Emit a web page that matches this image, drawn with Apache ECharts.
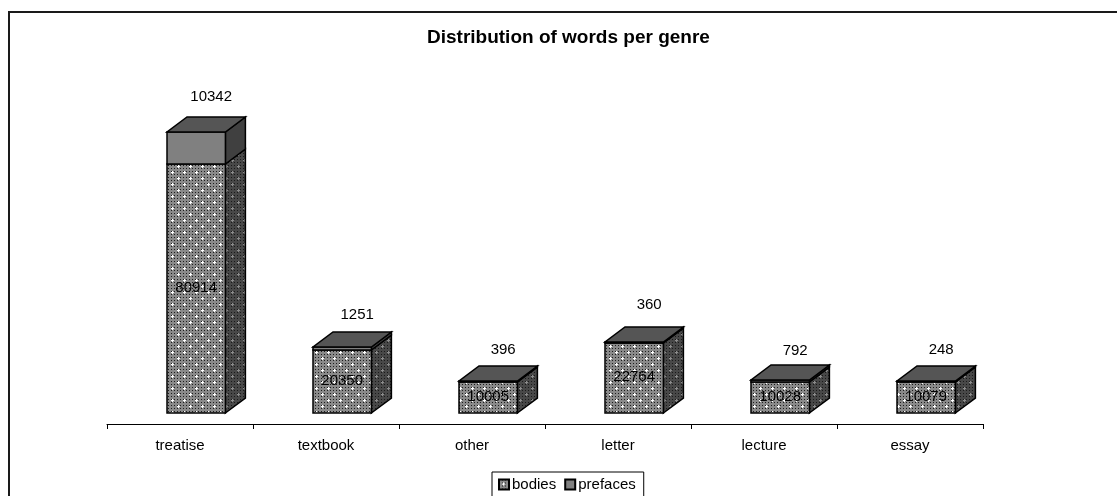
<!DOCTYPE html>
<html>
<head>
<meta charset="utf-8">
<title>Distribution of words per genre</title>
<style>
  html, body { margin: 0; padding: 0; background: #fff; }
  #chart { width: 1117px; height: 496px; }
</style>
<script src="https://cdn.jsdelivr.net/npm/echarts@6/dist/echarts.min.js"></script>
</head>
<body>
<div id="chart"></div>
<script>
const categories = ['treatise', 'textbook', 'other', 'letter', 'lecture', 'essay'];
const bodies = [80914, 20350, 10005, 22764, 10028, 10079];
const prefaces = [10342, 1251, 396, 360, 792, 248];

const FONT = '"Liberation Sans", Arial, sans-serif';
const DEPTH_X = 20;
const DEPTH_Y = 15;
const BAR_SHIFT = 16;
const BAR_RATIO = 0.4;
// 顶部数字离柱顶的距离，原图每根柱子不一样
const LABEL_LIFT = [35, 32, 31, 37, 29, 31];

// 网点填充：灰底上的细网格加交错的白点
function makeDots(base, dark, dot) {
  const tile = document.createElement('canvas');
  tile.width = 12;
  tile.height = 12;
  const ctx = tile.getContext('2d');
  for (let y = 0; y < 12; y++) {
    for (let x = 0; x < 12; x++) {
      ctx.fillStyle = (x % 3 === 0 && y % 3 === 0) ? dark : base;
      ctx.fillRect(x, y, 1, 1);
    }
  }
  ctx.fillStyle = dot;
  [[4, 4], [10, 10]].forEach(function (p) {
    ctx.fillRect(p[0], p[1] - 1, 1, 3);
    ctx.fillRect(p[0] - 1, p[1], 3, 1);
  });
  return {image: tile, repeat: 'repeat'};
}

const frontDots = makeDots('#8a8a8a', '#1e1e1e', '#ffffff');
const sideDots = makeDots('#484848', '#1a1a1a', '#8c8c8c');

function poly(points, fill) {
  return {
    type: 'polygon',
    shape: {points: points},
    style: {fill: fill, stroke: '#000', lineWidth: 1.5}
  };
}

// 画一段三维柱子：value(0)类目 value(1)起点 value(2)终点 value(3)数值
function drawBlock(params, api, front, side, isTop) {
  const cat = api.value(0);
  const low = api.coord([cat, api.value(1)]);
  const high = api.coord([cat, api.value(2)]);
  const w = api.size([1, 0])[0] * BAR_RATIO;
  const x0 = Math.round(low[0] + BAR_SHIFT - w / 2);
  const x1 = x0 + w;
  const y0 = Math.round(low[1]);
  const y1 = Math.round(high[1]);
  const children = [
    poly([[x1, y0], [x1 + DEPTH_X, y0 - DEPTH_Y], [x1 + DEPTH_X, y1 - DEPTH_Y], [x1, y1]], side),
    poly([[x0, y0], [x1, y0], [x1, y1], [x0, y1]], front)
  ];
  const mid = (x0 + x1) / 2;
  if (isTop) {
    children.push(poly([[x0, y1], [x1, y1], [x1 + DEPTH_X, y1 - DEPTH_Y], [x0 + DEPTH_X, y1 - DEPTH_Y]], '#555555'));
  }
  children.push({
    type: 'text',
    style: {
      text: String(api.value(3)),
      x: isTop ? mid + 15 : mid,
      y: isTop ? y1 - LABEL_LIFT[params.dataIndex] : (y0 + y1) / 2 - 1,
      align: 'center',
      verticalAlign: 'middle',
      fill: '#000',
      font: '15px ' + FONT
    }
  });
  return {type: 'group', children: children};
}

const bodiesData = categories.map(function (c, i) {
  return [i, 0, bodies[i], bodies[i]];
});
const prefacesData = categories.map(function (c, i) {
  return [i, bodies[i], bodies[i] + prefaces[i], prefaces[i]];
});

const myChart = echarts.init(document.getElementById('chart'));
myChart.setOption({
  animation: false,
  backgroundColor: '#fff',
  textStyle: {fontFamily: FONT},
  title: {
    text: 'Distribution of words per genre',
    left: 427,
    top: 28,
    padding: 0,
    textStyle: {fontFamily: FONT, fontSize: 19, fontWeight: 'bold', color: '#000'}
  },
  graphic: [{
    type: 'rect',
    silent: true,
    shape: {x: 9, y: 12, width: 1300, height: 700},
    style: {fill: 'none', stroke: '#1a1a1a', lineWidth: 2}
  }],
  legend: {
    left: 492,
    top: 472,
    padding: [5, 8, 8, 6],
    itemGap: 8,
    itemWidth: 10,
    itemHeight: 10,
    borderColor: '#000',
    borderWidth: 1,
    backgroundColor: '#fff',
    textStyle: {fontFamily: FONT, fontSize: 15, color: '#000', padding: [0, 0, 0, -2]},
    data: [
      {name: 'bodies', icon: 'rect'},
      {name: 'prefaces', icon: 'rect'}
    ]
  },
  grid: {left: 107, width: 876, top: 44, height: 369, containLabel: false},
  xAxis: {
    type: 'category',
    data: categories,
    offset: 11,
    axisLine: {onZero: false, lineStyle: {color: '#000', width: 1}},
    axisTick: {show: true, length: 5, lineStyle: {color: '#000'}},
    axisLabel: {fontFamily: FONT, fontSize: 15, color: '#000', margin: 14}
  },
  yAxis: {
    type: 'value',
    min: 0,
    max: 120000,
    show: false,
    splitLine: {show: false}
  },
  series: [
    {
      name: 'bodies',
      type: 'custom',
      clip: false,
      itemStyle: {color: frontDots, borderColor: '#000', borderWidth: 1},
      encode: {x: 0, y: 2},
      data: bodiesData,
      renderItem: function (params, api) {
        return drawBlock(params, api, frontDots, sideDots, false);
      }
    },
    {
      name: 'prefaces',
      type: 'custom',
      clip: false,
      itemStyle: {color: '#808080', borderColor: '#000', borderWidth: 1},
      encode: {x: 0, y: 2},
      data: prefacesData,
      renderItem: function (params, api) {
        return drawBlock(params, api, '#808080', '#404040', true);
      }
    }
  ]
});

window.addEventListener('resize', function () {
  myChart.resize();
});
</script>
</body>
</html>
